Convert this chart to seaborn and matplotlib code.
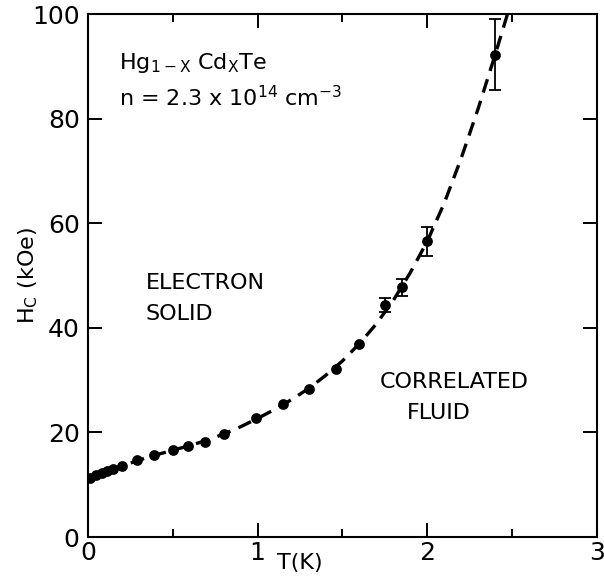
import seaborn as sns
import matplotlib.pyplot as plt
from matplotlib.ticker import MultipleLocator

temps = [0.01, 0.05, 0.08, 0.11, 0.15, 0.2, 0.29, 0.39, 0.5, 0.59, 0.69, 0.8,
         0.99, 1.15, 1.3, 1.46, 1.6, 1.75, 1.85, 2.0, 2.4]
field = [11.3, 11.8, 12.2, 12.6, 13.0, 13.6, 14.7, 15.7, 16.7, 17.4, 18.1, 19.8,
         22.7, 25.4, 28.3, 32.2, 37.0, 44.4, 47.8, 56.6, 92.3]

# error bars only on the high temperature points
err_t = [1.75, 1.85, 2.0, 2.4]
err_h = [44.4, 47.8, 56.6, 92.3]
err_size = [1.3, 1.6, 2.8, 6.8]

# dashed guide curve
curve_t = [0.0, 0.1, 0.2, 0.3, 0.4, 0.5, 0.6, 0.7, 0.8, 0.9, 1.0, 1.1, 1.2, 1.3,
           1.4, 1.5, 1.6, 1.7, 1.8, 1.9, 2.0, 2.1, 2.2, 2.3, 2.4, 2.5]
curve_h = [11.3, 12.5, 13.6, 14.7, 15.7, 16.6, 17.5, 18.5, 19.7, 21.1, 22.7, 24.4,
           26.3, 28.4, 30.9, 33.7, 37.0, 40.8, 45.3, 50.6, 56.6, 63.9, 72.5, 82.0, 92.3, 103.0]

sns.set_style("ticks")
plt.rcParams['font.family'] = ['DejaVu Sans']
plt.rcParams['text.color'] = 'black'
plt.rcParams['axes.labelcolor'] = 'black'

fig = plt.figure(figsize=(6.04, 5.77), dpi=100)
ax = fig.add_axes([0.1457, 0.0693, 0.8427, 0.9059])

sns.lineplot(x=curve_t, y=curve_h, ax=ax, color='black', linewidth=2.4,
             linestyle=(0, (4.2, 2.6)), sort=False)
ax.errorbar(err_t, err_h, yerr=err_size, fmt='none', ecolor='black',
            elinewidth=1.3, capsize=4.5, capthick=1.3)
sns.scatterplot(x=temps, y=field, ax=ax, color='black', s=60, edgecolor='black',
                linewidth=0, zorder=5)

ax.set_xlim(0, 3)
ax.set_ylim(0, 100)
ax.xaxis.set_major_locator(MultipleLocator(1))
ax.xaxis.set_minor_locator(MultipleLocator(0.5))
ax.yaxis.set_major_locator(MultipleLocator(20))
ax.tick_params(which='both', direction='in', top=True, right=True, width=1.4,
               labelsize=18, colors='black')
ax.tick_params(which='major', length=10)
ax.tick_params(which='minor', length=6)
ax.tick_params(axis='x', which='major', pad=3)
ax.tick_params(axis='y', which='major', pad=6)
for s in ax.spines.values():
    s.set_linewidth(1.5)
    s.set_color('black')

ax.set_xlabel('T(K)', fontsize=16)
ax.set_ylabel('H$_\\mathregular{C}$ (kOe)', fontsize=16)
ax.xaxis.set_label_coords(0.416, -0.03)
ax.yaxis.set_label_coords(-0.095, 0.5)

ax.text(0.18, 89.5, 'Hg$_\\mathregular{1-X}$ Cd$_\\mathregular{X}$Te', fontsize=16)
ax.text(0.18, 82.5, 'n = 2.3 x 10$^\\mathregular{14}$ cm$^\\mathregular{-3}$', fontsize=16)
ax.text(0.34, 47.5, 'ELECTRON', fontsize=16)
ax.text(0.34, 41.5, 'SOLID', fontsize=16)
ax.text(1.72, 28.5, 'CORRELATED', fontsize=16)
ax.text(1.88, 22.5, 'FLUID', fontsize=16)

fig.savefig('out.png', dpi=100)
